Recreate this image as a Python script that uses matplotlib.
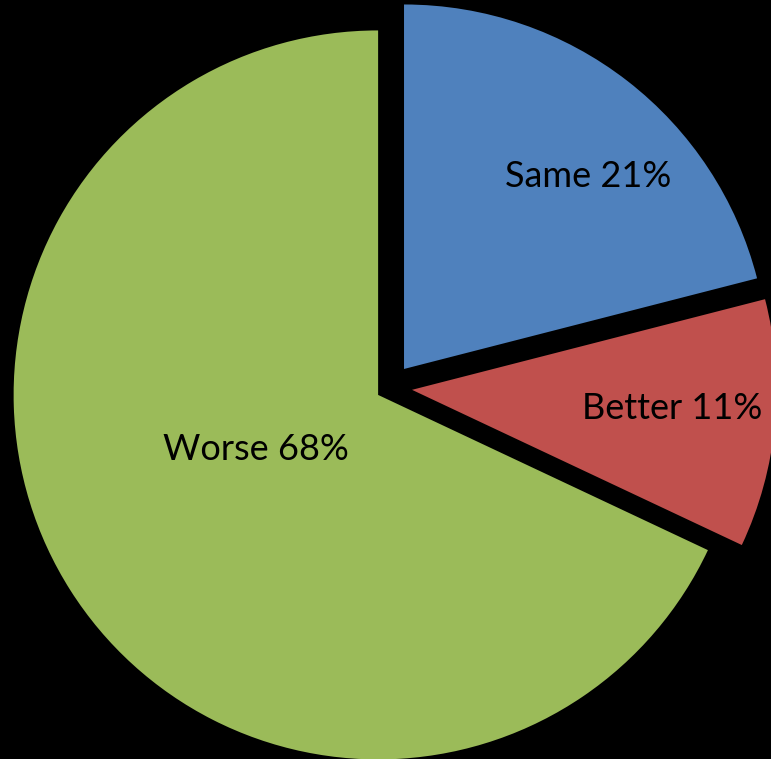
import matplotlib
matplotlib.use("Agg")
import matplotlib.pyplot as plt
import numpy as np

# Data
categories = ["Same", "Better", "Worse"]
values = [21, 11, 68]
pct_labels = ["21%", "11%", "68%"]

# Style / layout
colors = ["#4F81BD", "#C0504D", "#9BBB59"]
W, H = 771, 759
center = (389.5, 371.3)
radius = 364.5
explode_frac = [0.065, 0.062, 0.037]
explode = [f * radius for f in explode_frac]  # pie explode is in data units
# label anchor (baseline) in polar coords relative to each wedge's center: (angle deg, fraction of radius)
label_polar = [(44.7, 0.709), (-6.5, 0.718), (208.0, 0.380)]

fig = plt.figure(figsize=(W / 100, H / 100), dpi=100, facecolor="black")
ax = fig.add_axes([0, 0, 1, 1])
ax.set_facecolor("black")

wedges, _ = ax.pie(values, colors=colors, explode=explode, startangle=90,
                   counterclock=False, center=center, radius=radius,
                   wedgeprops=dict(linewidth=0, antialiased=True))

for w, cat, pct, (ang, frac) in zip(wedges, categories, pct_labels, label_polar):
    cx, cy = w.center
    x = cx + frac * radius * np.cos(np.radians(ang))
    y = cy + frac * radius * np.sin(np.radians(ang))
    ax.text(x, y, f"{cat} {pct}", ha="center", va="baseline",
            fontsize=26, family=["Lato", "DejaVu Sans"], color="black")

ax.set_xlim(0, W)
ax.set_ylim(0, H)
ax.set_aspect("auto")
ax.axis("off")
fig.savefig("out.png", dpi=100, facecolor="black")
